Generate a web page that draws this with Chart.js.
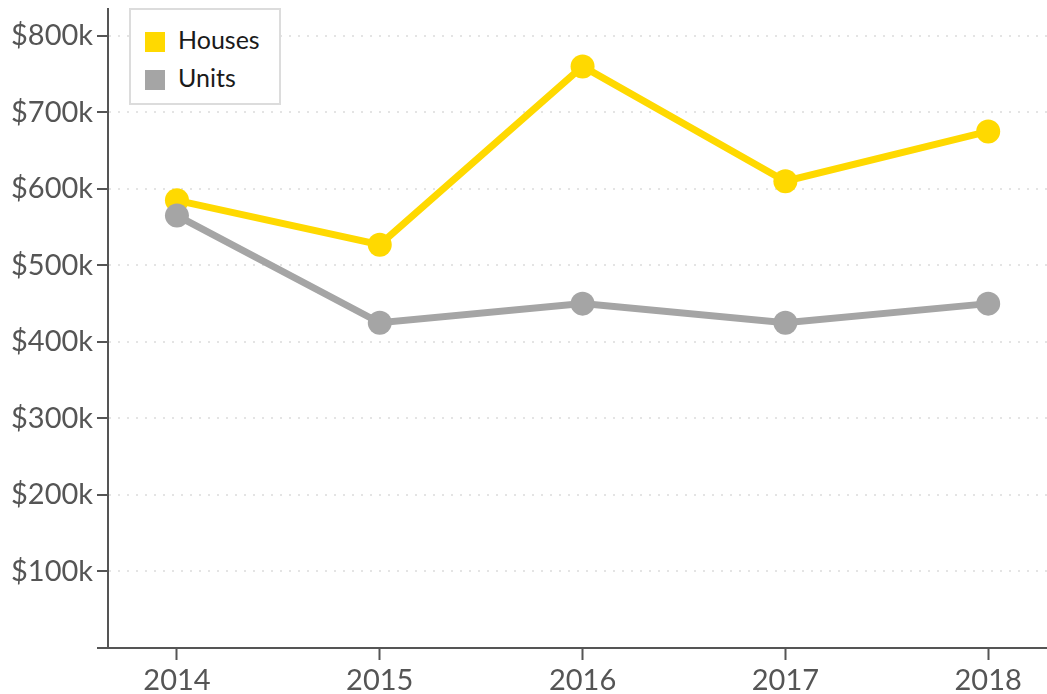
<!DOCTYPE html>
<html>
<head>
<meta charset="utf-8">
<script src="https://cdn.jsdelivr.net/npm/chart.js@4.4.1/dist/chart.umd.min.js"></script>
<style>
    body { margin: 0; background: #fff; }
    #wrap { position: relative; width: 1047px; height: 694px; }
    #legend {
        position: absolute; left: 129px; top: 8px; width: 152px; height: 97px;
        box-sizing: border-box; border: 2px solid #dcdcdc; background: #fff;
        font-family: Lato, sans-serif; font-size: 25px; color: #1a1a1a;
    }
    .item { position: absolute; left: 14px; height: 24px; line-height: 24px; white-space: nowrap; }
    .swatch { display: inline-block; width: 20px; height: 20px; vertical-align: -3px; margin-right: 13px; }
</style>
</head>
<body>
<div id="wrap">
    <canvas id="chart" width="1047" height="694"></canvas>
    <div id="legend"></div>
</div>
<script>
/* ---------- Data ---------- */
const years = [2014, 2015, 2016, 2017, 2018];
const houses = [585000, 527000, 760000, 610000, 675000];
const units = [565000, 425000, 450000, 425000, 450000];
const yTicks = [0, 100000, 200000, 300000, 400000, 500000, 600000, 700000, 800000];

const yellow = "#ffd900";
const grey = "#a5a5a5";
const axisGrey = "#555555";

function toPoints(values) {
    return years.map((y, i) => ({ x: y, y: values[i] }));
}

/* ---------- Chart ---------- */
const chart = new Chart(document.getElementById("chart"), {
    type: "line",
    data: {
        datasets: [
            {
                label: "Houses",
                data: toPoints(houses),
                borderColor: yellow,
                backgroundColor: yellow,
                borderWidth: 7,
                pointRadius: 12,
                pointBorderWidth: 0,
                pointBackgroundColor: yellow,
                tension: 0,
                order: 1
            },
            {
                label: "Units",
                data: toPoints(units),
                borderColor: grey,
                backgroundColor: grey,
                borderWidth: 7,
                pointRadius: 12,
                pointBorderWidth: 0,
                pointBackgroundColor: grey,
                tension: 0,
                order: 0
            }
        ]
    },
    options: {
        responsive: false,
        animation: false,
        layout: { autoPadding: false, padding: { top: 9, right: 0, left: 0, bottom: 0 } },
        plugins: {
            legend: { display: false },
            tooltip: { enabled: false }
        },
        scales: {
            x: {
                type: "linear",
                min: 2013.66,
                max: 2018.29,
                afterFit: (s) => { s.height = 46; s.paddingLeft = 0; s.paddingRight = 0; },
                grid: {
                    drawOnChartArea: false,
                    tickLength: 12,
                    tickWidth: 2,
                    tickColor: axisGrey
                },
                border: { color: axisGrey, width: 2 },
                ticks: {
                    stepSize: 1,
                    includeBounds: false,
                    padding: 3,
                    color: axisGrey,
                    font: { family: "Lato", size: 29 },
                    callback: (v) => String(v)
                }
            },
            y: {
                min: 0,
                max: 835000,
                afterFit: (s) => { s.width = 108; s.paddingTop = 0; s.paddingBottom = 0; },
                afterBuildTicks: (s) => { s.ticks = yTicks.map(v => ({ value: v })); },
                grid: {
                    color: (c) => c.tick && c.tick.value === 0 ? "rgba(0,0,0,0)" : "#e4e4e4",
                    lineWidth: 2,
                    tickLength: 11,
                    tickWidth: 2,
                    tickColor: axisGrey
                },
                border: { color: axisGrey, width: 2, dash: [2, 7], dashOffset: -9 },
                ticks: {
                    padding: 4,
                    color: axisGrey,
                    font: { family: "Lato", size: 29 },
                    callback: (v) => v === 0 ? "" : "$" + (v / 1000) + "k"
                }
            }
        }
    }
});

/* ---------- Legend (HTML, inside the plot) ---------- */
const legend = document.getElementById("legend");
chart.data.datasets.forEach((ds, i) => {
    const row = document.createElement("div");
    row.className = "item";
    row.style.top = (17 + i * 38) + "px";
    row.innerHTML = `<span class="swatch" style="background:${ds.borderColor}"></span>${ds.label}`;
    legend.appendChild(row);
});
</script>
</body>
</html>
